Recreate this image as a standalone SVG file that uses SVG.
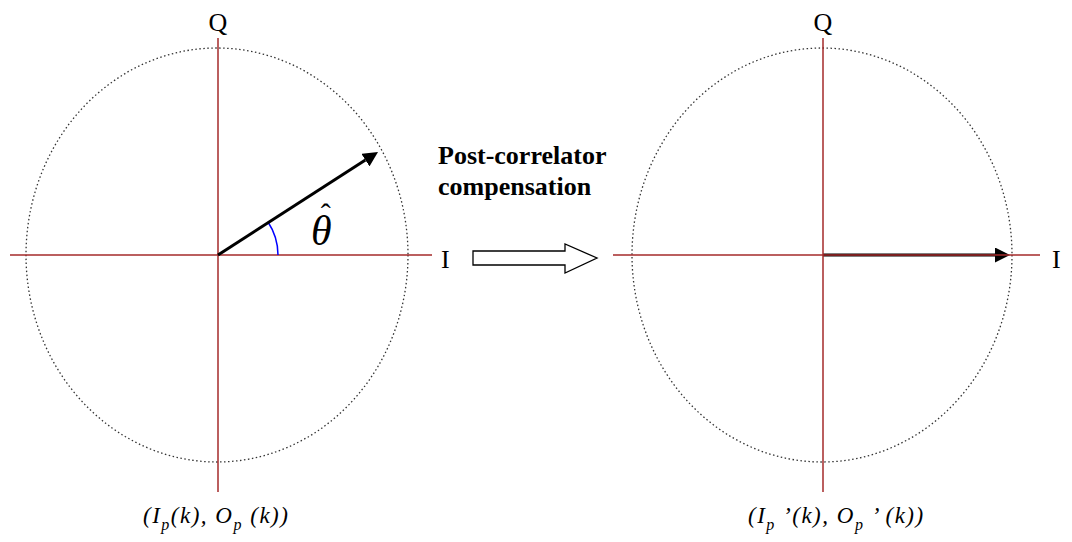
<svg xmlns="http://www.w3.org/2000/svg" width="1072" height="542" viewBox="0 0 1072 542">
<style>
.axis{stroke:#a52a2a;stroke-width:1.5;fill:none}
.circ{stroke:#333;stroke-width:1.3;stroke-dasharray:1.5 2.5;fill:none}
.vec{stroke:#000;stroke-width:3;fill:none}
.lbl{font-family:"Liberation Serif",serif;font-size:26px;fill:#000}
.math{font-family:"Liberation Serif",serif;font-style:italic;font-size:23px;letter-spacing:1.5px;fill:#000}
.bold{font-family:"Liberation Serif",serif;font-weight:bold;font-size:26px;fill:#000}
.sub{font-size:16px}
</style>
<defs>
<marker id="ah" markerWidth="5" markerHeight="5" refX="0" refY="2.5" orient="auto" markerUnits="strokeWidth">
<path d="M0,0 L5,2.5 L0,5 z" fill="#000"/>
</marker>
</defs>
<rect width="1072" height="542" fill="#fff"/>
<g id="left-plot">
<ellipse class="circ" cx="217" cy="255" rx="191" ry="207"/>
<line class="axis" x1="218" y1="38" x2="218" y2="492"/>
<line class="axis" x1="10" y1="255" x2="432" y2="255"/>
<text class="lbl" x="218" y="31" text-anchor="middle">Q</text>
<text class="lbl" x="441" y="268">I</text>
<path d="M278,255 A60,60 0 0 0 268,222" stroke="#0000ff" stroke-width="1.5" fill="none"/>
<text x="311" y="245" style="font-family:'Liberation Serif',serif;font-style:italic;font-size:42px">θ<tspan dx="-11" dy="-21" style="font-style:normal;font-size:30px">ˆ</tspan></text>
<text class="math" x="143" y="523">(I<tspan class="sub" dy="7">p</tspan><tspan dy="-7">(k), O</tspan><tspan class="sub" dy="7">p</tspan><tspan dy="-7"> (k))</tspan></text>
</g>
<g id="connectors">
<line class="vec" x1="218" y1="255" x2="365.4" y2="160.1" marker-end="url(#ah)"/>
<path d="M473,251 H565 V244 L597,258 L565,273 V265 H473 Z" fill="#fff" stroke="#000" stroke-width="1.3"/>
<line class="vec" x1="823" y1="255" x2="995" y2="255" marker-end="url(#ah)"/>
</g>
<g id="label">
<text class="bold" x="438" y="164">Post-correlator</text>
<text class="bold" x="438" y="195">compensation</text>
</g>
<g id="right-plot">
<ellipse class="circ" cx="822" cy="255" rx="190" ry="207"/>
<line class="axis" x1="823" y1="38" x2="823" y2="492"/>
<line class="axis" x1="613" y1="255" x2="1040" y2="255"/>
<text class="lbl" x="823" y="31" text-anchor="middle">Q</text>
<text class="lbl" x="1052" y="268">I</text>
<text class="math" x="748" y="523">(I<tspan class="sub" dy="7">p</tspan><tspan dy="-7"> ’(k), O</tspan><tspan class="sub" dy="7">p</tspan><tspan dy="-7"> ’ (k))</tspan></text>
</g>
</svg>
